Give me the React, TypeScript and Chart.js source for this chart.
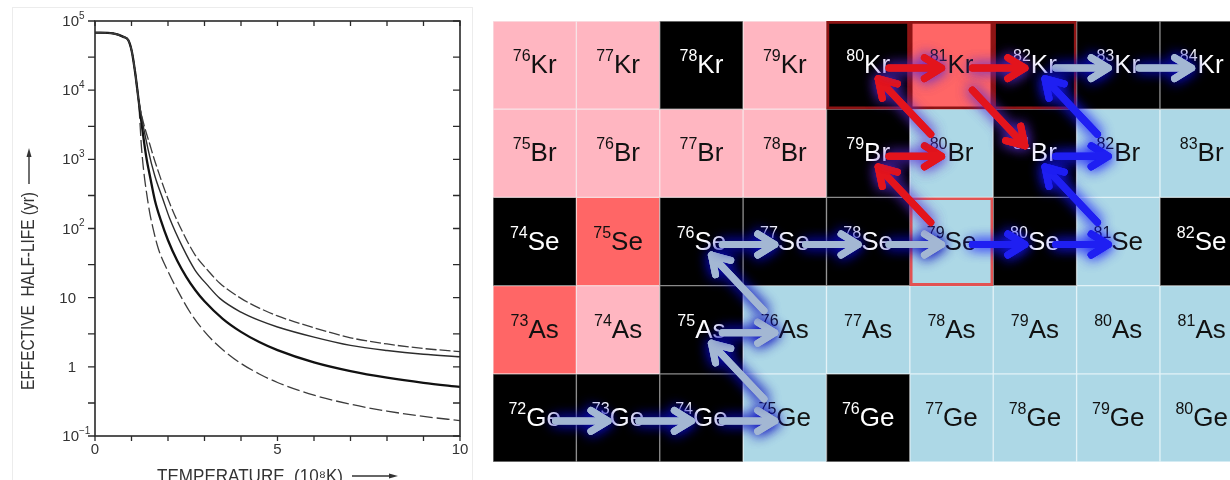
import React, { useEffect, useRef } from 'react';
import { Chart, registerables } from 'chart.js';

Chart.register(...registerables);

// ---------------- Left chart: effective half-life vs temperature ----------------
const HEAD_T = [0, 0.5, 0.78, 0.91, 1.01, 1.1, 1.19];
const HEAD_V = [68000, 66000, 59000, 53000, 36000, 18000, 7500];

const UPPER_T = [1.55, 1.75, 2.05, 2.4, 2.74, 3.1, 3.42, 4, 4.5, 5, 6, 7, 8, 9, 10];
const UPPER_V = [1349, 631, 229, 89, 41.7, 24.5, 16.2, 9.77, 7.08, 5.45, 3.67, 2.63, 2.14, 1.84, 1.66];

const THIN_T = [1.46, 1.64, 1.87, 2.05, 2.4, 2.74, 3.1, 3.42, 4, 4.5, 5, 6, 7, 8, 9, 10];
const THIN_V = [1349, 575, 257, 138, 53.7, 25.1, 14.8, 9.77, 6.17, 4.68, 3.77, 2.69, 2.04, 1.72, 1.52, 1.4];

const THICK_T = [1.4, 1.52, 1.64, 1.8, 2, 2.25, 2.5, 2.75, 3, 3.5, 4, 4.5, 5, 6, 7, 8, 9, 10];
const THICK_V = [1122, 525, 257, 133, 67.6, 34.4, 20, 12.8, 8.85, 4.94, 3.2, 2.28, 1.74, 1.156, 0.865, 0.696, 0.587, 0.513];

const LOWER_T = [1.28, 1.46, 1.6, 1.74, 2, 2.3, 2.6, 2.9, 3.25, 3.6, 4, 4.5, 5, 6, 7, 8, 9, 10];
const LOWER_V = [1349, 224, 95.5, 50.1, 24, 11.75, 6.21, 3.74, 2.33, 1.6, 1.12, 0.789, 0.594, 0.389, 0.288, 0.229, 0.192, 0.167];

const X_TICKS = [0, 1, 2, 3, 4, 5, 6, 7, 8, 9, 10];
const X_LABELS = ['0', '', '', '', '', '5', '', '', '', '', '10'];
const Y_DECADES = [0.1, 1, 10, 100, 1000, 10000, 100000];
const Y_BASE = ['10', '1', '10', '10', '10', '10', '10'];
const Y_EXP = ['\u22121', '', '', '2', '3', '4', '5'];
const Y_MINOR = [0.3, 3, 30, 300, 3000, 30000];
const Y_TITLE = 'EFFECTIVE  HALF-LIFE (yr)';
const X_TITLE = 'TEMPERATURE  (10\u2078K)';

// ---------------- Right chart: nuclide chart ----------------
const ELEMENTS = ['Ge', 'As', 'Se', 'Br', 'Kr'];
const PROTONS = [32, 33, 34, 35, 36];
const NEUTRONS = [40, 41, 42, 43, 44, 45, 46, 47, 48];
// s = stable (black), p = proton-rich (pink), r = long-lived (salmon), b = neutron-rich (light blue)
const CELL_KIND = [
  ['s', 's', 's', 'b', 's', 'b', 'b', 'b', 'b'], // Ge 72-80
  ['r', 'p', 's', 'b', 'b', 'b', 'b', 'b', 'b'], // As 73-81
  ['s', 'r', 's', 's', 's', 'b', 's', 'b', 's'], // Se 74-82
  ['p', 'p', 'p', 'p', 's', 'b', 's', 'b', 'b'], // Br 75-83
  ['p', 'p', 's', 'p', 's', 'r', 's', 's', 's'], // Kr 76-84
];
const OUTLINE_DARK = ['80Kr', '81Kr', '82Kr'];
const OUTLINE_LIGHT = ['79Se'];

const PALE_PATH = [
  ['72Ge', '73Ge'], ['73Ge', '74Ge'], ['74Ge', '75Ge'], ['75Ge', '75As'], ['75As', '76As'],
  ['76As', '76Se'], ['76Se', '77Se'], ['77Se', '78Se'], ['78Se', '79Se'], ['82Kr', '83Kr'], ['83Kr', '84Kr'],
];
const BLUE_PATH = [['79Se', '80Se'], ['80Se', '81Se'], ['81Se', '81Br'], ['81Br', '82Br'], ['82Br', '82Kr']];
const RED_PATH = [['79Se', '79Br'], ['79Br', '80Br'], ['80Br', '80Kr'], ['80Kr', '81Kr'], ['81Kr', '82Kr'], ['81Kr', '81Br']];

// ---------------- styles ----------------
const INK = '#2a2a2a';
const SCAN_FONT = '"Liberation Sans", Arial, "DejaVu Sans", sans-serif';
const CELL_FILL: Record<string, string> = { s: '#000000', p: '#FFB6C1', r: '#FF6666', b: '#ADD8E6' };
const CELL_EDGE: Record<string, string> = { s: '#8a8a8a', p: '#f8e2e6', r: '#f9cccc', b: '#e2f2f7' };

function series(ts: number[], vs: number[]) {
  const pts = HEAD_T.map((t, i) => ({ x: t, y: HEAD_V[i] }));
  return pts.concat(ts.map((t, i) => ({ x: t, y: vs[i] })));
}

function fitText(ctx: any, text: string, x: number, y: number, width: number) {
  const w = ctx.measureText(text).width;
  ctx.save();
  ctx.translate(x, y);
  ctx.scale(width / w, 1);
  ctx.fillText(text, 0, 0);
  ctx.restore();
}

const leftDecor = {
  id: 'leftDecor',
  afterDraw(chart: any) {
    const { ctx, chartArea } = chart;
    const { left, right, top, bottom } = chartArea;
    const xs = chart.scales.x;
    const ys = chart.scales.y;
    ctx.save();
    // faint scan border
    ctx.strokeStyle = '#ececec';
    ctx.lineWidth = 1;
    ctx.strokeRect(12.5, 7.5, 460, 490);
    // frame
    ctx.strokeStyle = INK;
    ctx.lineWidth = 1.6;
    ctx.strokeRect(left, top, right - left, bottom - top);
    // ticks
    ctx.beginPath();
    X_TICKS.forEach((t) => {
      const px = xs.getPixelForValue(t);
      ctx.moveTo(px, bottom);
      ctx.lineTo(px, bottom + 5);
      ctx.moveTo(px, top);
      ctx.lineTo(px, top + 5);
    });
    Y_DECADES.concat(Y_MINOR).forEach((v) => {
      const py = ys.getPixelForValue(v);
      ctx.moveTo(left - 7, py);
      ctx.lineTo(left, py);
      ctx.moveTo(right - 7, py);
      ctx.lineTo(right, py);
    });
    ctx.lineWidth = 1.3;
    ctx.stroke();

    ctx.fillStyle = '#333';
    // x tick labels
    ctx.font = `15px ${SCAN_FONT}`;
    ctx.textAlign = 'center';
    ctx.textBaseline = 'middle';
    X_TICKS.forEach((t, i) => {
      if (X_LABELS[i]) ctx.fillText(X_LABELS[i], xs.getPixelForValue(t), bottom + 14);
    });
    // y tick labels
    Y_DECADES.forEach((v, i) => {
      const py = ys.getPixelForValue(v);
      ctx.font = `15px ${SCAN_FONT}`;
      ctx.textBaseline = 'middle';
      if (Y_EXP[i]) {
        ctx.textAlign = 'right';
        ctx.fillText(Y_BASE[i], left - 16, py + 1);
        ctx.font = `10px ${SCAN_FONT}`;
        ctx.textAlign = 'left';
        ctx.fillText(Y_EXP[i], left - 16, py - 5);
      } else {
        ctx.textAlign = 'right';
        ctx.fillText(Y_BASE[i], left - 19, py + 1);
      }
    });
    // y title (rotated) with arrow
    ctx.font = `18px ${SCAN_FONT}`;
    ctx.textAlign = 'left';
    ctx.textBaseline = 'middle';
    ctx.save();
    ctx.translate(29, 390);
    ctx.rotate(-Math.PI / 2);
    fitText(ctx, Y_TITLE, 0, 0, 198);
    ctx.restore();
    ctx.beginPath();
    ctx.moveTo(29, 184);
    ctx.lineTo(29, 156);
    ctx.lineWidth = 1.4;
    ctx.strokeStyle = '#333';
    ctx.stroke();
    ctx.beginPath();
    ctx.moveTo(29, 148);
    ctx.lineTo(26.5, 157);
    ctx.lineTo(31.5, 157);
    ctx.closePath();
    ctx.fill();
    // x title with arrow
    ctx.textBaseline = 'alphabetic';
    fitText(ctx, X_TITLE, 157, 482, 186);
    ctx.beginPath();
    ctx.moveTo(352, 476);
    ctx.lineTo(390, 476);
    ctx.stroke();
    ctx.beginPath();
    ctx.moveTo(398, 476);
    ctx.lineTo(389, 473.5);
    ctx.lineTo(389, 478.5);
    ctx.closePath();
    ctx.fill();
    ctx.restore();
  },
};

function parseNuclide(label: string) {
  const mass = parseInt(label, 10);
  const sym = label.replace(/[0-9]/g, '');
  const z = PROTONS[ELEMENTS.indexOf(sym)];
  return { n: mass - z, z };
}

function drawArrow(ctx: any, x1: number, y1: number, x2: number, y2: number, color: string, glow: string) {
  const ang = Math.atan2(y2 - y1, x2 - x1);
  const head = 20;
  const spread = 0.55;
  ctx.save();
  ctx.lineCap = 'round';
  ctx.lineJoin = 'round';
  ctx.strokeStyle = color;
  ctx.lineWidth = 7;
  ctx.shadowColor = glow;
  ctx.shadowBlur = 13;
  ctx.beginPath();
  ctx.moveTo(x1, y1);
  ctx.lineTo(x2, y2);
  ctx.moveTo(x2 - head * Math.cos(ang - spread), y2 - head * Math.sin(ang - spread));
  ctx.lineTo(x2, y2);
  ctx.lineTo(x2 - head * Math.cos(ang + spread), y2 - head * Math.sin(ang + spread));
  ctx.stroke();
  ctx.stroke();
  ctx.shadowBlur = 0;
  ctx.stroke();
  ctx.restore();
}

const nuclideDecor = {
  id: 'nuclideDecor',
  afterDatasetsDraw(chart: any) {
    const { ctx, chartArea } = chart;
    const xs = chart.scales.x;
    const ys = chart.scales.y;
    ctx.save();
    ctx.beginPath();
    ctx.rect(chartArea.left, chartArea.top, chartArea.right - chartArea.left, chartArea.bottom - chartArea.top);
    ctx.clip();
    const massFont = `16px ${SCAN_FONT}`;
    const symFont = `26px ${SCAN_FONT}`;
    ctx.textAlign = 'left';
    ctx.textBaseline = 'alphabetic';
    ELEMENTS.forEach((sym, i) => {
      const z = PROTONS[i];
      NEUTRONS.forEach((n, j) => {
        const kind = CELL_KIND[i][j];
        const cx = xs.getPixelForValue(n);
        const cy = ys.getPixelForValue(z);
        const mass = String(z + n);
        ctx.fillStyle = kind === 's' ? '#ffffff' : '#111111';
        ctx.font = massFont;
        const wm = ctx.measureText(mass).width;
        ctx.font = symFont;
        const ws = ctx.measureText(sym).width;
        const x0 = cx - (wm + ws) / 2;
        ctx.font = massFont;
        ctx.fillText(mass, x0, cy - 4);
        ctx.font = symFont;
        ctx.fillText(sym, x0 + wm, cy + 8);
      });
    });
    const groups: [string[][], string, string][] = [
      [PALE_PATH, '#a3b7d3', 'rgba(10,10,190,0.9)'],
      [RED_PATH, '#e3141c', 'rgba(90,40,210,0.75)'],
      [BLUE_PATH, '#1f1ff2', 'rgba(20,20,255,0.8)'],
    ];
    groups.forEach(([path, color, glow]) => {
      path.forEach(([from, to]) => {
        const a = parseNuclide(from);
        const b = parseNuclide(to);
        const ax = xs.getPixelForValue(a.n);
        const ay = ys.getPixelForValue(a.z);
        const bx = xs.getPixelForValue(b.n);
        const by = ys.getPixelForValue(b.z);
        const dx = bx - ax;
        const dy = by - ay;
        drawArrow(ctx, ax + dx * 0.25, ay + dy * 0.25 + 3, ax + dx * 0.88, ay + dy * 0.88 + 3, color, glow);
      });
    });
    ctx.restore();
  },
};

export default function App() {
  const leftRef = useRef<HTMLCanvasElement>(null);
  const rightRef = useRef<HTMLCanvasElement>(null);

  useEffect(() => {
    const left = new Chart(leftRef.current as HTMLCanvasElement, {
      type: 'line',
      data: {
        datasets: [
          { data: series(UPPER_T, UPPER_V), borderColor: '#3c3c3c', borderWidth: 1.3, borderDash: [11, 3] },
          { data: series(THIN_T, THIN_V), borderColor: '#2c2c2c', borderWidth: 1.4 },
          { data: series(THICK_T, THICK_V), borderColor: '#111111', borderWidth: 2.3 },
          { data: series(LOWER_T, LOWER_V), borderColor: '#3c3c3c', borderWidth: 1.3, borderDash: [13, 4] },
        ],
      } as any,
      options: {
        animation: false,
        responsive: false,
        parsing: false,
        layout: { padding: { left: 95, right: 20, top: 21, bottom: 44 } },
        elements: { point: { radius: 0 }, line: { cubicInterpolationMode: 'monotone', fill: false } },
        scales: {
          x: { type: 'linear', min: 0, max: 10, display: false },
          y: { type: 'logarithmic', min: 0.1, max: 100000, display: false },
        },
        plugins: { legend: { display: false }, tooltip: { enabled: false } },
      } as any,
      plugins: [leftDecor],
    });

    const cells: any[] = [];
    const fills: string[] = [];
    const edges: string[] = [];
    const widths: number[] = [];
    ELEMENTS.forEach((sym, i) => {
      const z = PROTONS[i];
      NEUTRONS.forEach((n, j) => {
        const kind = CELL_KIND[i][j];
        const label = `${z + n}${sym}`;
        cells.push({ x: n, y: [z - 0.5, z + 0.5] });
        fills.push(CELL_FILL[kind]);
        if (OUTLINE_DARK.includes(label)) {
          edges.push('#8e1414');
          widths.push(3);
        } else if (OUTLINE_LIGHT.includes(label)) {
          edges.push('#e25252');
          widths.push(3);
        } else {
          edges.push(CELL_EDGE[kind]);
          widths.push(1);
        }
      });
    });

    const right = new Chart(rightRef.current as HTMLCanvasElement, {
      type: 'bar',
      data: {
        datasets: [
          {
            data: cells,
            backgroundColor: fills,
            borderColor: edges,
            borderWidth: widths,
            borderSkipped: false,
            grouped: false,
            barPercentage: 1,
            categoryPercentage: 1,
          },
        ],
      } as any,
      options: {
        animation: false,
        responsive: false,
        layout: { padding: { left: 13, right: 0, top: 21, bottom: 18 } },
        scales: {
          x: {
            type: 'linear',
            min: 39.5,
            max: 48.34,
            offset: false,
            display: false,
            afterBuildTicks: (s: any) => {
              s.ticks = NEUTRONS.map((v) => ({ value: v }));
            },
          },
          y: { type: 'linear', min: 31.5, max: 36.5, display: false },
        },
        plugins: { legend: { display: false }, tooltip: { enabled: false } },
      } as any,
      plugins: [nuclideDecor],
    });

    return () => {
      left.destroy();
      right.destroy();
    };
  }, []);

  return (
    <div
      style={{
        position: 'fixed',
        left: 0,
        top: 0,
        width: 1230,
        height: 480,
        background: '#ffffff',
        overflow: 'hidden',
      }}
    >
      <canvas ref={leftRef} width={480} height={480} style={{ position: 'absolute', left: 0, top: 0 }} />
      <canvas ref={rightRef} width={750} height={480} style={{ position: 'absolute', left: 480, top: 0 }} />
    </div>
  );
}
